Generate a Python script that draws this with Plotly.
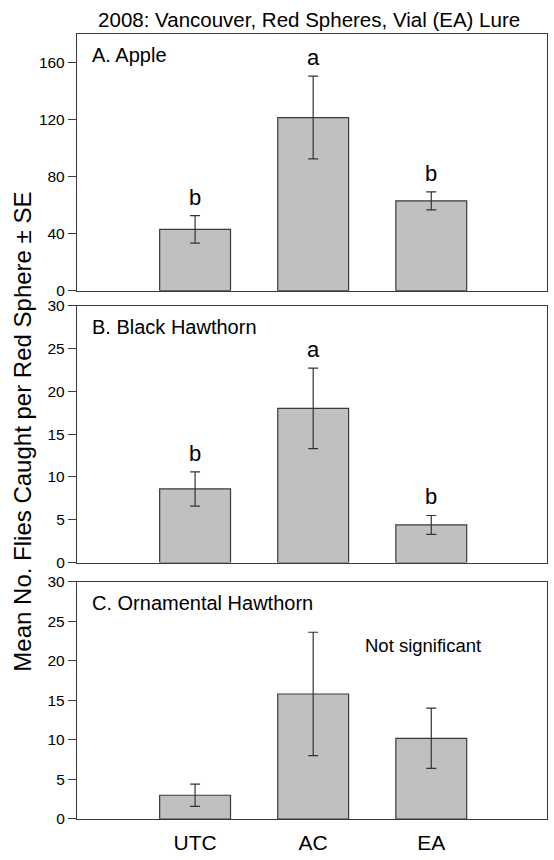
import plotly.graph_objects as go

# Treatments (x categories)
treatments = ["UTC", "AC", "EA"]

# Panel A: Apple
apple_mean = [43.0, 121.4, 63.0]
apple_se = [9.7, 29.0, 6.3]
apple_letters = ["b", "a", "b"]

# Panel B: Black Hawthorn
black_mean = [8.6, 18.0, 4.4]
black_se = [2.0, 4.7, 1.1]
black_letters = ["b", "a", "b"]

# Panel C: Ornamental Hawthorn
orn_mean = [3.0, 15.8, 10.2]
orn_se = [1.4, 7.8, 3.8]

panel_titles = ["A. Apple", "B. Black Hawthorn", "C. Ornamental Hawthorn"]
y_ticks_a = [0, 40, 80, 120, 160]
y_ticks_bc = [0, 5, 10, 15, 20, 25, 30]

FONT = "Liberation Sans, Arial, sans-serif"
BAR_FILL = "#c0c0c0"
EDGE = "#3a3a3a"

fig = go.Figure()

panels = [
    (apple_mean, apple_se, apple_letters, "y", "x"),
    (black_mean, black_se, black_letters, "y2", "x2"),
    (orn_mean, orn_se, None, "y3", "x3"),
]

xpos = [0, 1, 2]
for means, ses, letters, yref, xref in panels:
    fig.add_trace(go.Bar(
        x=xpos, y=means, width=0.6,
        marker=dict(color=BAR_FILL, line=dict(color=EDGE, width=1.2)),
        error_y=dict(type="data", array=ses, visible=True,
                     color="#333333", thickness=1.2, width=5),
        xaxis=xref, yaxis=yref, showlegend=False, hoverinfo="skip",
    ))
    if letters:
        for xi, m, s, t in zip(xpos, means, ses, letters):
            fig.add_annotation(x=xi, y=m + s, xref=xref, yref=yref, text=t,
                               showarrow=False, yanchor="bottom", yshift=4,
                               font=dict(family=FONT, size=22, color="black"))

# panel labels
for i, lbl in enumerate(panel_titles):
    sfx = "" if i == 0 else str(i + 1)
    fig.add_annotation(x=0.027, y=1, xref=f"x{sfx} domain", yref=f"y{sfx} domain",
                       text=lbl, showarrow=False, xanchor="left", yanchor="middle",
                       yshift=-21, font=dict(family=FONT, size=20, color="black"))

fig.add_annotation(x=1.926, y=21.9, xref="x3", yref="y3", text="Not significant",
                   showarrow=False, xanchor="center", yanchor="middle",
                   font=dict(family=FONT, size=18.5, color="black"))

# shared y-axis title
fig.add_annotation(x=-0.1155, y=0.4931, xref="paper", yref="paper",
                   text="Mean No. Flies Caught per Red Sphere ± SE", textangle=-90,
                   showarrow=False, xanchor="center", yanchor="middle",
                   font=dict(family=FONT, size=24, color="black"))

axis_common = dict(showline=True, linecolor=EDGE, linewidth=1.3, mirror=True,
                   showgrid=False, zeroline=False)

xa = dict(axis_common, range=[-1, 2.98], tickvals=xpos, ticktext=treatments,
          ticks="", showticklabels=False)

ytick_font = dict(family=FONT, size=15.5, color="black")

fig.update_layout(
    width=554, height=860,
    margin=dict(l=77, r=6, t=34, b=30),
    plot_bgcolor="white", paper_bgcolor="white",
    font=dict(family=FONT, color="black"),
    title=dict(text="2008: Vancouver, Red Spheres, Vial (EA) Lure",
               x=0.558, xanchor="center", y=1 - 20 / 860, yanchor="middle",
               font=dict(family=FONT, size=20.5, color="black")),
    xaxis=dict(xa, anchor="y"),
    xaxis2=dict(xa, anchor="y2"),
    xaxis3=dict(xa, anchor="y3", showticklabels=True, ticklabelstandoff=5,
                tickfont=dict(family=FONT, size=21, color="black")),
    yaxis=dict(axis_common, domain=[0.6730, 1.0], range=[0, 180], tickvals=y_ticks_a,
               ticks="outside", ticklen=8, tickcolor=EDGE,
               tickfont=ytick_font, anchor="x"),
    yaxis2=dict(axis_common, domain=[0.3266, 0.6541], range=[0, 30], tickvals=y_ticks_bc,
                ticks="outside", ticklen=8, tickcolor=EDGE,
                tickfont=ytick_font, anchor="x2"),
    yaxis3=dict(axis_common, domain=[0.0, 0.3024], range=[0, 30], tickvals=y_ticks_bc,
                ticks="outside", ticklen=8, tickcolor=EDGE,
                tickfont=ytick_font, anchor="x3"),
)

fig.write_html("out.html")
